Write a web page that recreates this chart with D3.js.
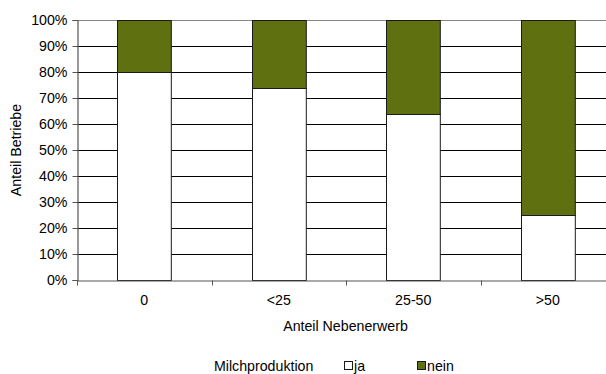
<!DOCTYPE html>
<html>
<head>
<meta charset="utf-8">
<script src="https://cdn.jsdelivr.net/npm/d3@7/dist/d3.min.js"></script>
<style>
  html, body { margin: 0; padding: 0; background: #fff; }
  svg { display: block; }
  text { font-family: "Liberation Sans", Arial, sans-serif; fill: #000; }
</style>
</head>
<body>
<svg id="chart" width="606" height="374"></svg>
<script>
// Share of farms with / without dairy production by share of part-time income
const categories = ["0", "<25", "25-50", ">50"];
const jaValues = [80, 74, 64, 25];
const neinValues = [20, 26, 36, 75];
const seriesNames = ["ja", "nein"];
const yTicks = [0, 10, 20, 30, 40, 50, 60, 70, 80, 90, 100];

const colors = { ja: "#ffffff", nein: "#5f7010" };
const fontSize = 14.2;

const svg = d3.select("#chart");
const plot = { left: 77, top: 20, right: 615, bottom: 280 };

const x = d3.scaleBand().domain(categories).range([plot.left, plot.right]);
const y = d3.scaleLinear().domain([0, 100]).range([plot.bottom, plot.top]);
const barW = x.bandwidth() * 0.4;

// horizontal gridlines
svg.append("g")
  .selectAll("line")
  .data(yTicks.filter(d => d > 0))
  .join("line")
  .attr("x1", plot.left).attr("x2", plot.right)
  .attr("y1", d => Math.round(y(d)) + 0.5).attr("y2", d => Math.round(y(d)) + 0.5)
  .attr("stroke", d => d === 100 ? "#888" : "#000")
  .attr("stroke-width", 1);

// stacked bars
const rows = categories.map((c, i) => ({ cat: c, ja: jaValues[i], nein: neinValues[i] }));
const stack = d3.stack().keys(seriesNames)(rows);

svg.append("g")
  .selectAll("g")
  .data(stack)
  .join("g")
  .attr("fill", d => colors[d.key])
  .selectAll("rect")
  .data(d => d)
  .join("rect")
  .attr("x", d => Math.round(x(d.data.cat) + (x.bandwidth() - barW) / 2) + 0.5)
  .attr("width", barW)
  .attr("y", d => Math.round(y(d[1])) + 0.5)
  .attr("height", d => Math.round(y(d[0])) - Math.round(y(d[1])))
  .attr("stroke", "#1a1a1a")
  .attr("stroke-width", 1);

// y axis
const yAxis = d3.axisLeft(y)
  .tickValues(yTicks)
  .tickFormat(d => d + "%")
  .tickSize(5)
  .tickPadding(5);
const gy = svg.append("g")
  .attr("transform", `translate(${plot.left + 0.5},0)`)
  .call(yAxis);
gy.select(".domain").attr("stroke", "#555").attr("stroke-width", 1.2);
gy.selectAll(".tick line").attr("stroke", "#555");
gy.selectAll(".tick text")
  .style("font-family", '"Liberation Sans", Arial, sans-serif')
  .style("font-size", fontSize + "px")
  .attr("fill", "#000");

// x axis
const xAxis = d3.axisBottom(x).tickSize(0).tickPadding(14);
const gx = svg.append("g")
  .attr("transform", `translate(0,${plot.bottom + 0.5})`)
  .call(xAxis);
gx.select(".domain").attr("stroke", "#555").attr("stroke-width", 1.2);
gx.selectAll(".tick text")
  .style("font-family", '"Liberation Sans", Arial, sans-serif')
  .style("font-size", fontSize + "px")
  .attr("fill", "#000");
// boundary tick marks between categories
gx.append("g")
  .selectAll("line")
  .data(categories.slice(1))
  .join("line")
  .attr("x1", d => Math.round(x(d)) + 0.5).attr("x2", d => Math.round(x(d)) + 0.5)
  .attr("y1", 0).attr("y2", 5)
  .attr("stroke", "#555");
gx.append("line")
  .attr("x1", plot.left + 0.5).attr("x2", plot.left + 0.5)
  .attr("y1", 0).attr("y2", 5)
  .attr("stroke", "#555");

// axis titles
svg.append("text")
  .attr("x", (plot.left + plot.right) / 2 - 0.5)
  .attr("y", 331)
  .attr("text-anchor", "middle")
  .style("font-size", fontSize + "px")
  .text("Anteil Nebenerwerb");

svg.append("text")
  .attr("transform", `translate(21,${(plot.top + plot.bottom) / 2}) rotate(-90)`)
  .attr("text-anchor", "middle")
  .style("font-size", fontSize + "px")
  .text("Anteil Betriebe");

// legend
const legend = svg.append("g");
legend.append("text")
  .attr("x", 214).attr("y", 371)
  .style("font-size", fontSize + "px")
  .text("Milchproduktion");
const legendX = [344, 417];
seriesNames.forEach((k, i) => {
  legend.append("rect")
    .attr("x", legendX[i] + 0.5).attr("y", 361.5)
    .attr("width", 8).attr("height", 8)
    .attr("fill", colors[k])
    .attr("stroke", "#1a1a1a");
  legend.append("text")
    .attr("x", legendX[i] + 10).attr("y", 371)
    .style("font-size", fontSize + "px")
    .text(k);
});
</script>
</body>
</html>
